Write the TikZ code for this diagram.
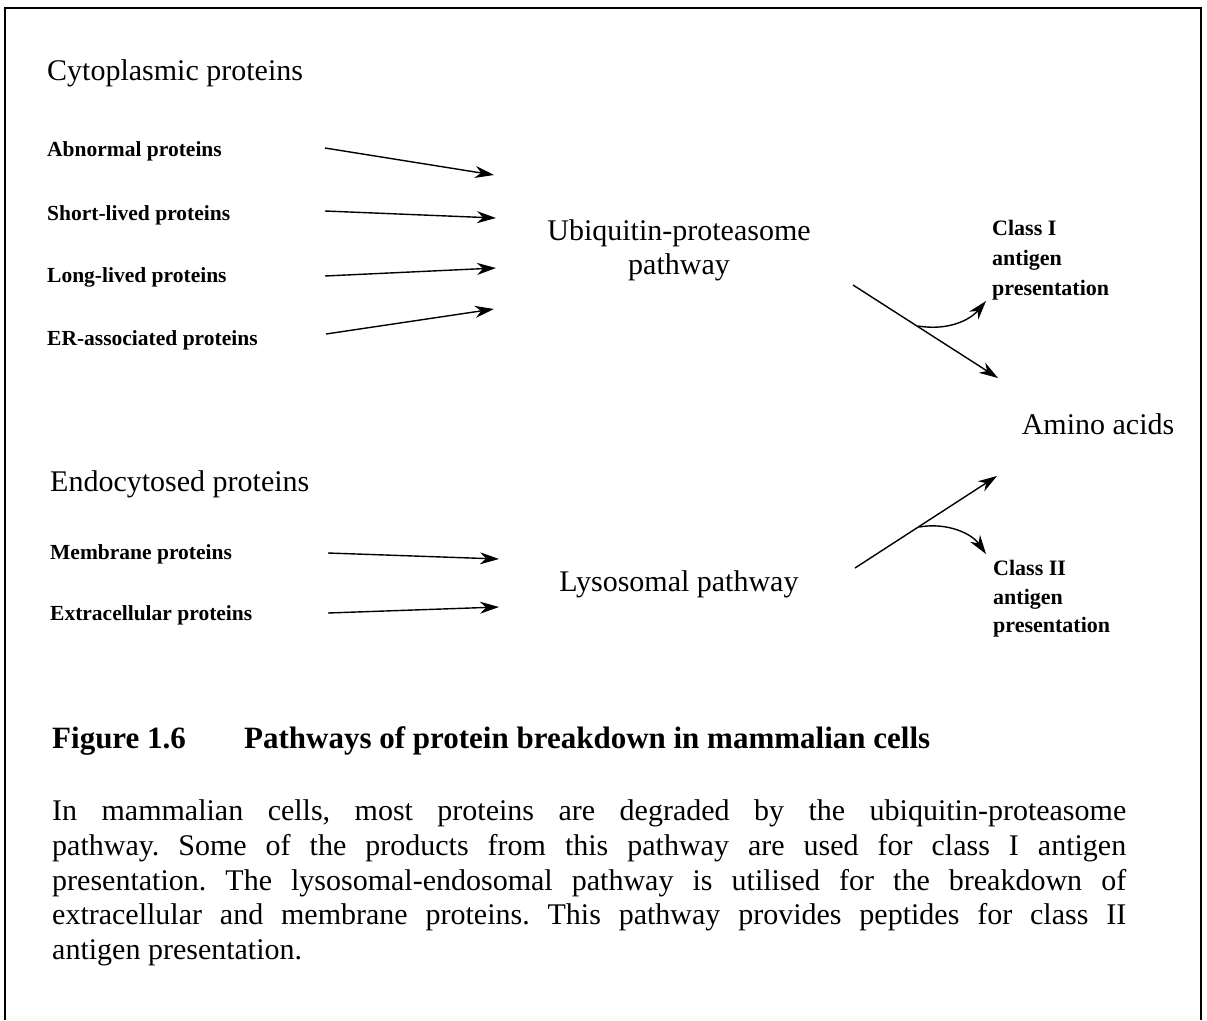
\documentclass[tikz,border=0pt]{standalone}
\usepackage{fontspec}
\setmainfont{Liberation Serif}
\usetikzlibrary{arrows.meta}
\frenchspacing
\begin{document}
\begin{tikzpicture}[x=1pt,y=-1pt,
  big/.style={font=\fontsize{30}{35}\selectfont, inner sep=0pt},
  captext/.style={font=\fontsize{31}{35}\selectfont\bfseries, inner sep=0pt},
  small/.style={font=\fontsize{21.5}{26}\selectfont\bfseries, inner sep=0pt, anchor=base west},
  cls/.style={font=\fontsize{22}{26}\selectfont\bfseries, inner sep=0pt, anchor=base west},
  arr/.style={line width=1.4pt, -{Stealth[length=19pt,width=12pt,inset=6pt]}},
  frame/.style={line width=2pt}]
\useasboundingbox (0,0) rectangle (1207,1020);
% frame (open at the bottom)
\coordinate (fbl) at (5,1020);
\coordinate (ftl) at (5,8);
\coordinate (ftr) at (1201,8);
\coordinate (fbr) at (1201,1020);
\draw[frame] (fbl) -- (ftl) -- (ftr) -- (fbr);

% left headings and labels
\node[big, anchor=base west] (cyto) at (47,80) {Cytoplasmic proteins};
\node[small] (abn) at (47,156) {Abnormal proteins};
\node[small] (short) at (47,220) {Short-lived proteins};
\node[small] (long) at (47,282) {Long-lived proteins};
\node[small] (er) at (47,345) {ER-associated proteins};

\node[big, anchor=base west] (endo) at (50,491) {Endocytosed proteins};
\node[small] (memb) at (50,559) {Membrane proteins};
\node[small] (extra) at (50,620) {Extracellular proteins};

% pathways
\node[big, anchor=base] (ubq1) at (679,240) {Ubiquitin-proteasome};
\node[big, anchor=base] (ubq2) at (679,274) {pathway};
\node[big, anchor=base] (lyso) at (679,591) {Lysosomal pathway};

% right labels
\node[cls] (c1a) at (992,235) {Class I};
\node[cls] (c1b) at (992,265) {antigen};
\node[cls] (c1c) at (992,295) {presentation};
\node[big, anchor=base] (amino) at (1098,434) {Amino acids};
\node[cls] (c2a) at (993,575) {Class II};
\node[cls] (c2b) at (993,604) {antigen};
\node[cls] (c2c) at (993,632) {presentation};

% arrow end points
\coordinate (a1s) at (325,148); \coordinate (a1e) at (494,175);
\coordinate (a2s) at (325,211); \coordinate (a2e) at (496,218);
\coordinate (a3s) at (325,276); \coordinate (a3e) at (496,268);
\coordinate (a4s) at (326,334); \coordinate (a4e) at (494,309);
\coordinate (m1s) at (328,553); \coordinate (m1e) at (499,559);
\coordinate (m2s) at (328,613); \coordinate (m2e) at (499,607);
\draw[arr] (a1s) -- (a1e);
\draw[arr] (a2s) -- (a2e);
\draw[arr] (a3s) -- (a3e);
\draw[arr] (a4s) -- (a4e);
\draw[arr] (m1s) -- (m1e);
\draw[arr] (m2s) -- (m2e);

% upper output
\coordinate (us) at (853,285); \coordinate (ue) at (998,378);
\coordinate (ub) at (918,326); \coordinate (uc) at (986,301);
\draw[arr] (us) -- (ue);
\draw[arr] (ub) .. controls (948,331) and (970,320) .. (uc);

% lower output
\coordinate (ls) at (855,568); \coordinate (le) at (997,476);
\coordinate (lb) at (919,527); \coordinate (lc) at (986,554);
\draw[arr] (ls) -- (le);
\draw[arr] (lb) .. controls (948,522) and (972,534) .. (lc);

% caption
\node[captext, anchor=base west] (fig) at (52,748) {Figure 1.6};
\node[captext, anchor=base west] (title) at (244,748) {Pathways of protein breakdown in mammalian cells};

\node[big, anchor=base west] (b1) at (52,820) {\makebox[1074pt][s]{In mammalian cells, most proteins are degraded by the ubiquitin-proteasome}};
\node[big, anchor=base west] (b2) at (52,855) {\makebox[1074pt][s]{pathway. Some of the products from this pathway are used for class I antigen}};
\node[big, anchor=base west] (b3) at (52,890) {\makebox[1074pt][s]{presentation. The lysosomal-endosomal pathway is utilised for the breakdown of}};
\node[big, anchor=base west] (b4) at (52,924) {\makebox[1074pt][s]{extracellular and membrane proteins. This pathway provides peptides for class II}};
\node[big, anchor=base west] (b5) at (52,959) {antigen presentation.};
\end{tikzpicture}
\end{document}
